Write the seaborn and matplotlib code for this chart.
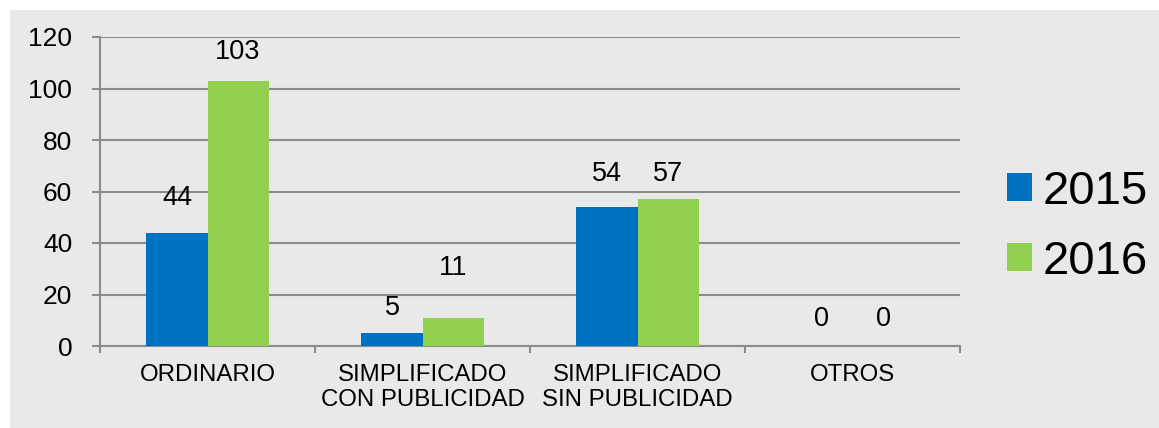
import matplotlib
matplotlib.use("Agg")
import matplotlib.pyplot as plt
import seaborn as sns
import pandas as pd
from matplotlib.patches import Rectangle

categories = ["ORDINARIO", "SIMPLIFICADO\nCON PUBLICIDAD", "SIMPLIFICADO\nSIN PUBLICIDAD", "OTROS"]
years = ["2015", "2016"]
values_2015 = [44, 5, 54, 0]
values_2016 = [103, 11, 57, 0]
colors = ["#0070C0", "#92D050"]
# label vertical offsets (px, centre above bar top) to mimic source placement
label_off_2015 = [35, 25, 33, 27]
label_off_2016 = [29, 50, 25, 27]

df = pd.DataFrame({
    "cat": categories * 2,
    "year": [years[0]] * 4 + [years[1]] * 4,
    "val": values_2015 + values_2016,
})

sns.set_theme(style="white")
plt.rcParams["font.family"] = ["Liberation Sans", "DejaVu Sans"]

W, H = 1159, 428
fig = plt.figure(figsize=(W / 100, H / 100), dpi=100)
fig.patch.set_facecolor("white")
bg = "#E9E9E9"
fig.patches.append(Rectangle((10 / W, 0), 1 - 10 / W, (H - 10) / H,
                             transform=fig.transFigure, facecolor=bg,
                             edgecolor="none", zorder=-10))

ax = fig.add_axes([100 / W, (H - 346) / H, 860 / W, 309 / H])
ax.set_facecolor(bg)

sns.barplot(data=df, x="cat", y="val", hue="year", palette=colors,
            width=0.568, ax=ax, zorder=3, legend=True, saturation=1,
            linewidth=0)

ax.set_ylim(0, 120)
ax.set_xlim(-0.5, 3.5)
ax.set_yticks(range(0, 121, 20))
ax.yaxis.grid(True, color="#8C8C8C", linewidth=1.5, zorder=0)
ax.set_axisbelow(True)
ax.set_xlabel("")
ax.set_ylabel("")

for s in ["top", "right"]:
    ax.spines[s].set_visible(False)
for s in ["left", "bottom"]:
    ax.spines[s].set_color("#8C8C8C")
    ax.spines[s].set_linewidth(1.5)

ax.tick_params(axis="y", length=6, width=1.5, color="#8C8C8C", pad=14,
               labelsize=19, labelcolor="black", left=True)
ax.tick_params(axis="x", which="major", length=0, pad=13, labelsize=17.3,
               labelcolor="black")
ax.set_xticks([-0.5, 0.5, 1.5, 2.5, 3.5], minor=True)
ax.tick_params(axis="x", which="minor", length=5, width=1.5, color="#8C8C8C",
               bottom=True)
ax.set_xticks(range(4))
ax.set_xticklabels(categories, linespacing=1.15)

# data labels
for cont, offs in zip(ax.containers, [label_off_2015, label_off_2016]):
    for bar, off in zip(cont, offs):
        h = bar.get_height()
        ax.annotate(f"{int(h)}", (bar.get_x() + bar.get_width() / 2, h),
                    xytext=(0, off * 0.72), textcoords="offset points",
                    ha="center", va="center", fontsize=19.5, color="black")

leg = ax.legend(loc="center left", bbox_to_anchor=(1.0547, 0.385), frameon=False,
                fontsize=34, handlelength=0.53, handleheight=0.53,
                labelspacing=0.55, handletextpad=0.22, borderaxespad=0,
                borderpad=0)
for t in leg.get_texts():
    t.set_color("black")

fig.savefig("out.png", dpi=100, facecolor="white")
